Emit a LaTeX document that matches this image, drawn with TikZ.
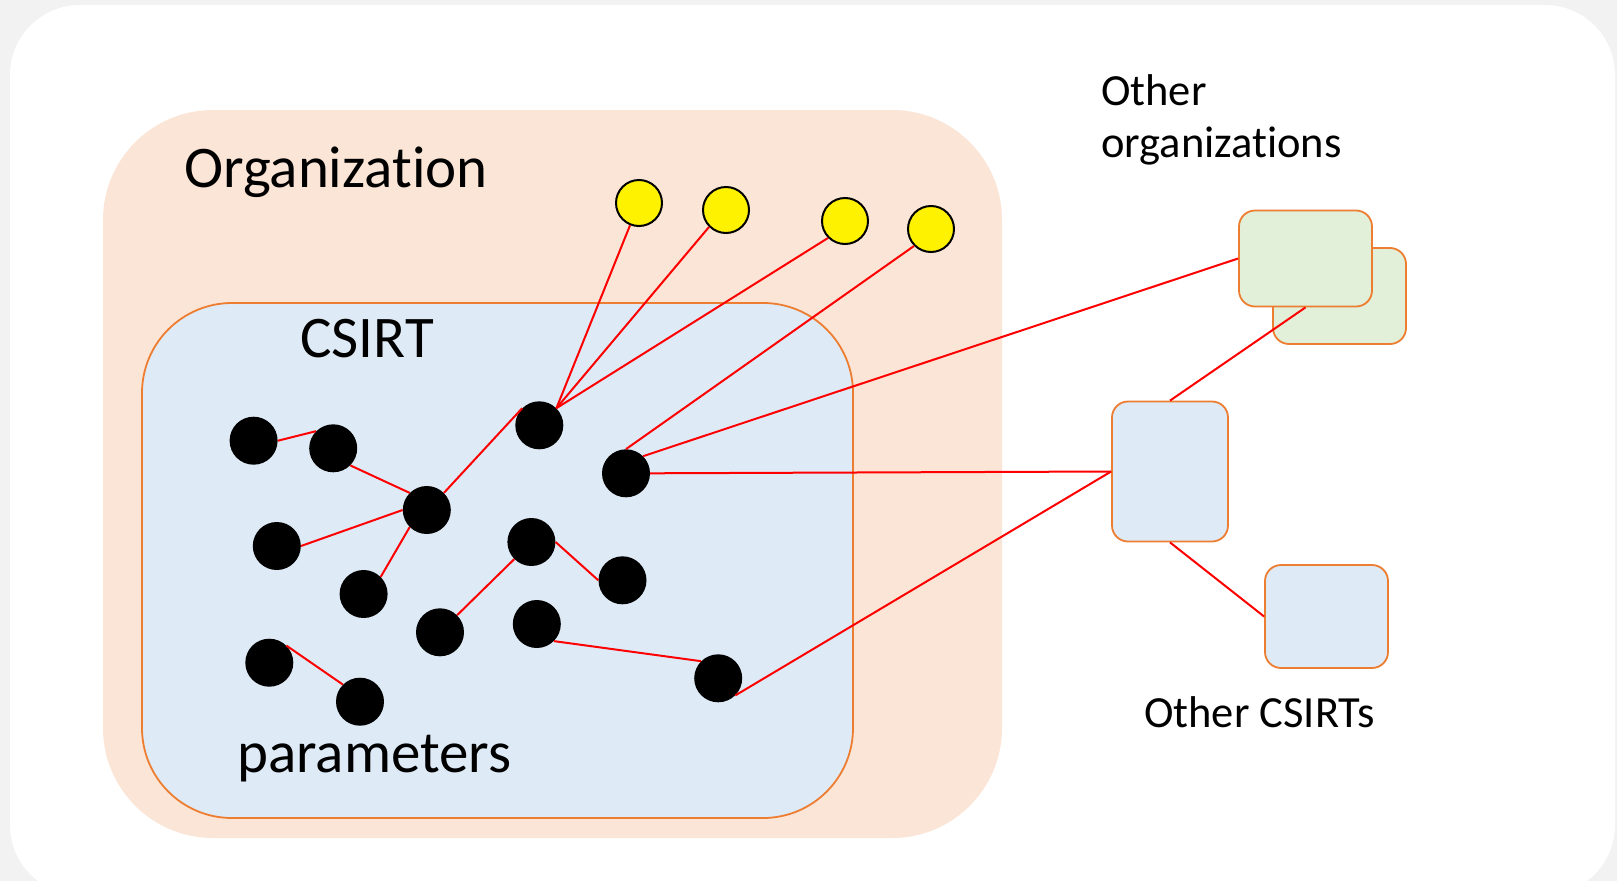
\documentclass[tikz,border=0pt]{standalone}
\usepackage{fontspec}
\setmainfont{Carlito}[Ligatures={NoCommon,NoRare,NoContextual},Contextuals=NoAlternate]
\usetikzlibrary{positioning}
\definecolor{orgfill}{HTML}{FBE5D6}
\definecolor{csirtfill}{HTML}{DEEBF7}
\definecolor{greenfill}{HTML}{E2F0D9}
\definecolor{edge}{HTML}{ED7D31}

\begin{document}
\begin{tikzpicture}[x=1pt,y=-1pt]
\tikzstyle{param}=[circle,fill=black,minimum size=48pt,inner sep=0pt]
\tikzstyle{ext}=[circle,draw=black,line width=2pt,fill=yellow,minimum size=46pt,inner sep=0pt]
\tikzstyle{team}=[rectangle,draw=edge,line width=1.8pt,rounded corners=16pt,inner sep=0pt]
\tikzstyle{lnk}=[red,line width=2pt]
\tikzstyle{bigtxt}=[anchor=base west,inner sep=0pt,font=\fontsize{59}{70}\selectfont]
\tikzstyle{smalltxt}=[anchor=base west,inner sep=0pt,align=left,font=\fontsize{44.5}{52}\selectfont]

% Background and panel
\useasboundingbox (0,0) rectangle (1617,881);
\clip (0,0) rectangle (1617,881);
\fill[gray!10] (0,0) rectangle (1617,881);
\fill[white,rounded corners=70pt] (10,5) rectangle (1615,895);

% Organization and CSIRT areas
\node[rectangle,fill=orgfill,rounded corners=110pt,minimum width=899pt,minimum height=728pt] (org) at (552.5,474) {};
\node[rectangle,fill=csirtfill,draw=edge,line width=1.8pt,rounded corners=90pt,minimum width=711pt,minimum height=515pt] (csirt) at (497.5,560.5) {};

% Labels
\node[bigtxt] (orglbl) at (184,187) {Organization};
\node[bigtxt] (csirtlbl) at (300,357) {CSIRT};
\node[bigtxt] (parlbl) at (237,772) {parameters};
\node[smalltxt] (otherorg) at (1101,157) {Other\\organizations};
\node[smalltxt] (othercsirt) at (1144,727) {Other CSIRTs};

% Parameters inside the CSIRT
\node[param] (A) at (253.6,440.7) {};
\node[param] (B) at (333.2,448.3) {};
\node[param] (C) at (426.8,510) {};
\node[param] (D) at (276.8,546) {};
\node[param] (E) at (363.6,594) {};
\node[param] (F) at (539.3,425.3) {};
\node[param] (G) at (626,473.3) {};
\node[param] (H) at (531.4,542) {};
\node[param] (I) at (622.5,580.3) {};
\node[param] (J) at (440,632.3) {};
\node[param] (K) at (536.8,624) {};
\node[param] (L) at (269.3,662.7) {};
\node[param] (M) at (360,701.7) {};
\node[param] (N) at (718.2,678.3) {};

% Parameters of the organization
\node[ext] (Y1) at (639,203) {};
\node[ext] (Y2) at (726,210) {};
\node[ext] (Y3) at (845,221) {};
\node[ext] (Y4) at (931,229) {};

% Other organizations and other CSIRTs
\node[team,fill=greenfill,minimum width=133pt,minimum height=96pt] (gback) at (1339.5,296) {};
\node[team,fill=greenfill,minimum width=133pt,minimum height=96pt] (gfront) at (1305.5,258.5) {};
\node[team,fill=csirtfill,minimum width=116pt,minimum height=140pt] (bmid) at (1170,471.5) {};
\node[team,fill=csirtfill,minimum width=123pt,minimum height=103pt] (blow) at (1326.5,616.5) {};

% Links inside the CSIRT
\draw[lnk] (A.east) -- (B.135);
\draw[lnk] (B.-45) -- (C.135);
\draw[lnk] (D.east) -- (C.west);
\draw[lnk] (C.-135) -- (E.45);
\draw[lnk] (C.45) -- (F.135);
\draw[lnk] (H.-135) -- (J.45);
\draw[lnk] (H.east) -- (I.west);
\draw[lnk] (K.-45) -- (N.135);
\draw[lnk] (L.45) -- (M.135);

% Links to the organization
\draw[lnk] (Y1) -- (F.45);
\draw[lnk] (Y2.south west) -- (F.45);
\draw[lnk] (Y3.south west) -- (F.45);
\draw[lnk] (Y4.south west) -- (G.north);

% Links to the outside
\draw[lnk] (G.45) -- (gfront.west);
\draw[lnk] (G.east) -- (bmid.west);
\draw[lnk] (N.-45) -- (bmid.west);
\draw[lnk] (bmid.north) -- (gfront.south);
\draw[lnk] (bmid.south) -- (blow.west);
\end{tikzpicture}
\end{document}
